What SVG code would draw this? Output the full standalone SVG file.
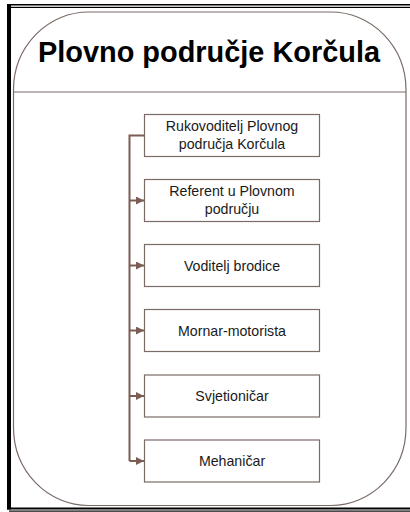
<svg xmlns="http://www.w3.org/2000/svg" width="410" height="512" viewBox="0 0 410 512">
<style>
.box{fill:#ffffff;stroke:#7a6b66;stroke-width:1.2}
.lbl{font-family:"Liberation Sans",Arial,sans-serif;font-size:14.2px;fill:#1a1a1a;text-anchor:middle}
.conn{fill:none;stroke:#7b5d53;stroke-width:2}
.frame{fill:#000}
</style>
<defs>
<marker id="arr" viewBox="0 0 10 10" refX="10" refY="5" markerWidth="4" markerHeight="4" orient="auto" markerUnits="strokeWidth">
<path d="M0,0 L10,5 L0,10 z" fill="#7b5d53"/>
</marker>
</defs>
<rect width="410" height="512" fill="#ffffff"/>
<g id="frame">
<rect class="frame" x="7" y="4" width="403" height="1.5"/>
<rect class="frame" x="11" y="6.8" width="399" height="1.2"/>
<rect class="frame" x="7" y="4" width="4" height="505.5"/>
<rect class="frame" x="7" y="507.5" width="403" height="2"/>
<rect class="frame" x="9" y="510.5" width="401" height="1.2"/>
</g>
<g id="container">
<rect x="13.5" y="12" width="392.5" height="493.5" rx="75" ry="78" fill="#ffffff" stroke="#7a6b66" stroke-width="1.2"/>
<line x1="13.5" y1="92" x2="406" y2="92" stroke="#7a6b66" stroke-width="1.2"/>
<text x="209" y="61.5" font-family="'Liberation Sans',Arial,sans-serif" font-weight="bold" font-size="29.5" fill="#000" text-anchor="middle" textLength="342" lengthAdjust="spacingAndGlyphs">Plovno područje Korčula</text>
</g>
<g id="connectors">
<path class="conn" d="M144,135.5 H129.5 V461"/>
<path class="conn" d="M129.5,200.5 H144" marker-end="url(#arr)"/>
<path class="conn" d="M129.5,265.5 H144" marker-end="url(#arr)"/>
<path class="conn" d="M129.5,330.5 H144" marker-end="url(#arr)"/>
<path class="conn" d="M129.5,396 H144" marker-end="url(#arr)"/>
<path class="conn" d="M129.5,461 H144" marker-end="url(#arr)"/>
</g>
<g id="n1">
<rect class="box" x="144.5" y="114.5" width="175" height="42"/>
<text class="lbl" x="232" y="131">Rukovoditelj Plovnog</text>
<text class="lbl" x="232" y="149">područja Korčula</text>
</g>
<g id="n2">
<rect class="box" x="144.5" y="179.5" width="175" height="42"/>
<text class="lbl" x="232" y="195.5">Referent u Plovnom</text>
<text class="lbl" x="232" y="213.5">području</text>
</g>
<g id="n3">
<rect class="box" x="144.5" y="244.5" width="175" height="42"/>
<text class="lbl" x="232" y="270.5">Voditelj brodice</text>
</g>
<g id="n4">
<rect class="box" x="144.5" y="309.5" width="175" height="42"/>
<text class="lbl" x="232" y="335.5">Mornar-motorista</text>
</g>
<g id="n5">
<rect class="box" x="144.5" y="375" width="175" height="42"/>
<text class="lbl" x="232" y="401">Svjetioničar</text>
</g>
<g id="n6">
<rect class="box" x="144.5" y="440" width="175" height="42"/>
<text class="lbl" x="232" y="466">Mehaničar</text>
</g>
</svg>
